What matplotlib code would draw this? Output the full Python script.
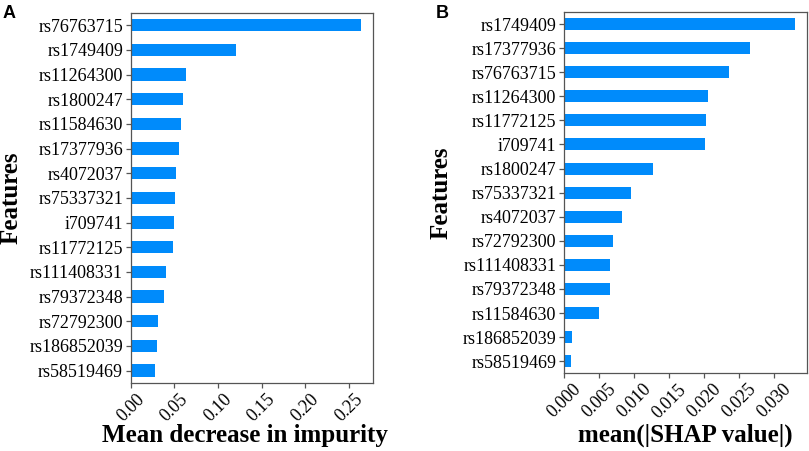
import matplotlib
matplotlib.use("Agg")
import matplotlib.pyplot as plt

# Panel A: Mean decrease in impurity (top to bottom)
features_a = ["rs76763715", "rs1749409", "rs11264300", "rs1800247", "rs11584630",
              "rs17377936", "rs4072037", "rs75337321", "i709741", "rs11772125",
              "rs111408331", "rs79372348", "rs72792300", "rs186852039", "rs58519469"]
values_a = [0.2646, 0.1208, 0.0631, 0.0600, 0.0573, 0.0554, 0.0520, 0.0505,
            0.0501, 0.0482, 0.0409, 0.0386, 0.0310, 0.0298, 0.0275]
xticks_a = [0.00, 0.05, 0.10, 0.15, 0.20, 0.25]
xticklabels_a = ["0.00", "0.05", "0.10", "0.15", "0.20", "0.25"]

# Panel B: mean(|SHAP value|) (top to bottom)
features_b = ["rs1749409", "rs17377936", "rs76763715", "rs11264300", "rs11772125",
              "i709741", "rs1800247", "rs75337321", "rs4072037", "rs72792300",
              "rs111408331", "rs79372348", "rs11584630", "rs186852039", "rs58519469"]
values_b = [0.03305, 0.02652, 0.02352, 0.02052, 0.02033, 0.02014, 0.01276, 0.00952,
            0.00829, 0.00700, 0.00652, 0.00652, 0.00505, 0.00110, 0.00105]
xticks_b = [0.000, 0.005, 0.010, 0.015, 0.020, 0.025, 0.030]
xticklabels_b = ["0.000", "0.005", "0.010", "0.015", "0.020", "0.025", "0.030"]

BAR = "#008BFB"
SPINE = "#555555"
SERIF = ["Liberation Serif", "DejaVu Serif"]

fig = plt.figure(figsize=(8.09, 4.51), dpi=100)
ax_a = fig.add_axes([0.1616, 0.1508, 0.2995, 0.8204])
ax_b = fig.add_axes([0.6972, 0.1723, 0.3004, 0.8011])


def draw(ax, feats, vals, ticks, ticklabels, xlabel):
    n = len(feats)
    pos = list(range(n))
    ax.barh(pos, vals, height=0.5, color=BAR)
    ax.set_ylim(n - 0.5, -0.5)
    ax.set_xlim(0, max(vals) * 1.05)
    ax.set_yticks(pos)
    ax.set_yticklabels(feats, family=SERIF, fontsize=13)
    ax.set_xticks(ticks)
    ax.set_xticklabels(ticklabels, family=SERIF, fontsize=13, rotation=45,
                       ha="center")
    for s in ax.spines.values():
        s.set_color(SPINE)
        s.set_linewidth(0.9)
    ax.tick_params(axis="both", color=SPINE, length=3.5, width=0.9, pad=2)
    ax.tick_params(axis="x", pad=2)
    ax.set_xlabel(xlabel, family=SERIF, fontsize=18, fontweight="bold")
    ax.set_ylabel("Features", family=SERIF, fontsize=18, fontweight="bold")


draw(ax_a, features_a, values_a, xticks_a, xticklabels_a, "Mean decrease in impurity")
draw(ax_b, features_b, values_b, xticks_b, xticklabels_b, "mean(|SHAP value|)")

ax_a.xaxis.set_label_coords(0.47, -0.11)
ax_a.yaxis.set_label_coords(-0.446, 0.5)
ax_b.xaxis.set_label_coords(0.5, -0.14)
ax_b.yaxis.set_label_coords(-0.457, 0.5)

fig.text(3 / 809, 1 - 18 / 451, "A", family=["Liberation Sans", "DejaVu Sans"],
         fontsize=13, fontweight="bold", ha="left", va="baseline")
fig.text(436 / 809, 1 - 18 / 451, "B", family=["Liberation Sans", "DejaVu Sans"],
         fontsize=13, fontweight="bold", ha="left", va="baseline")

fig.savefig("out.png", dpi=100)
